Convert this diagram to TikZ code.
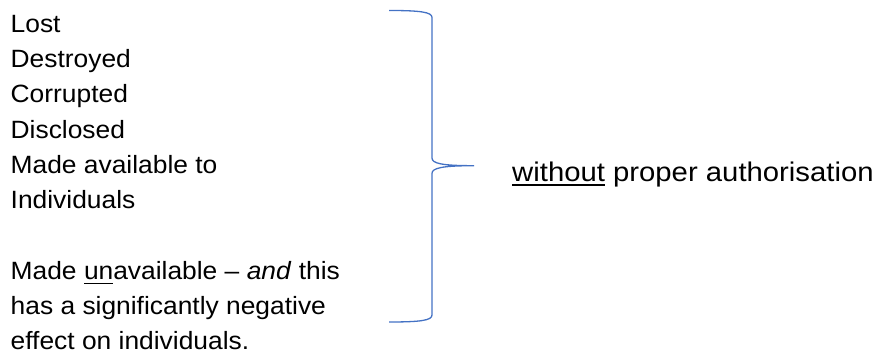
\documentclass[tikz,border=0pt]{standalone}
\usepackage{fontspec}
\setmainfont{Liberation Sans}
\newfontfamily\leftfont[FakeStretch=1.055,Ligatures=TeX]{Liberation Sans}
\newfontfamily\rightfont[FakeStretch=1.085,Ligatures=TeX]{Liberation Sans}
\definecolor{bracecol}{HTML}{4472C4}
\newcommand\myulA[1]{\setbox0\hbox{#1}\rlap{\rule[-4.7pt]{\wd0}{1.5pt}}\box0\relax}
\newcommand\myulB[1]{\setbox0\hbox{#1}\rlap{\rule[-4.4pt]{\wd0}{2pt}}\box0\relax}
\begin{document}
\begin{tikzpicture}[x=1pt,y=-1pt,
  listline/.style={anchor=base west,inner sep=0pt,font=\leftfont\fontsize{25}{30}\selectfont},
  righttext/.style={anchor=base west,inner sep=0pt,font=\rightfont\fontsize{27}{32}\selectfont},
  bracepath/.style={draw=bracecol,line width=1.3pt}]
\useasboundingbox (0,0) rectangle (875,352);
\node[listline] (l1) at (10.5,32.3) {Lost};
\node[listline] (l2) at (10.5,67.6) {Destroyed};
\node[listline] (l3) at (10.5,102.9) {Corrupted};
\node[listline] (l4) at (10.5,138.2) {Disclosed};
\node[listline] (l5) at (10.5,173.5) {Made available to};
\node[listline] (l6) at (10.5,208.8) {Individuals};
\node[listline] (l7) at (10.5,279.4) {Made \myulA{un}available – \textit{and} this};
\node[listline] (l8) at (10.5,314.7) {has a significantly negative};
\node[listline] (l9) at (10.5,349.2) {effect on individuals.};
\node[righttext] (r) at (512,181.7) {\myulB{without} proper authorisation};
\draw[bracepath] (389,10.5) .. controls (420,10.5) and (432,12) .. (432,17.5)
  -- (432,158) .. controls (432,163.5) and (442,165.7) .. (474,165.7)
  .. controls (442,165.7) and (432,168) .. (432,173.5)
  -- (432,315) .. controls (432,320.5) and (420,322) .. (389,322);
\end{tikzpicture}
\end{document}
